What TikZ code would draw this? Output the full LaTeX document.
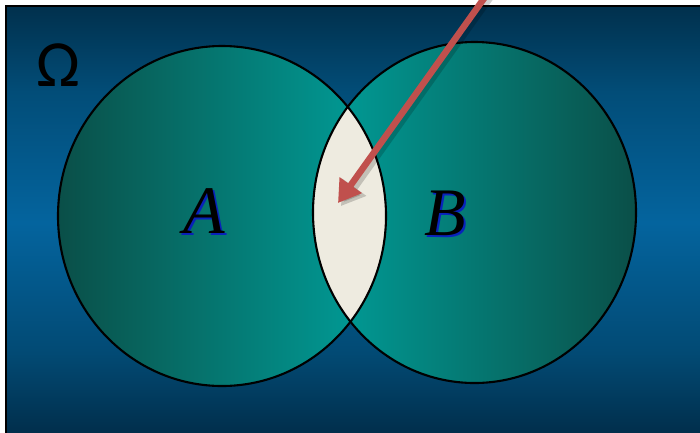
\documentclass[tikz,border=0pt]{standalone}
\usepackage{fontspec}
\setmainfont{Liberation Serif}
\newfontfamily\omegafont{Carlito}
\usetikzlibrary{arrows.meta}
\definecolor{bgtop}{HTML}{01304C}
\definecolor{bgupper}{HTML}{024D78}
\definecolor{bgmid}{HTML}{04649E}
\definecolor{bglower}{HTML}{024A74}
\definecolor{bgbot}{HTML}{012C48}
\definecolor{tealdark}{HTML}{0A4F48}
\definecolor{tealbright}{HTML}{00A09B}
\definecolor{lensfill}{HTML}{EEEBE0}
\definecolor{arrowred}{HTML}{C0504D}
\definecolor{shadowblue}{HTML}{0A14C8}
\pgfdeclareverticalshading{universeshade}{100bp}{color(0bp)=(bgbot); color(25bp)=(bgbot); color(35bp)=(bglower); color(50bp)=(bgmid); color(65bp)=(bgupper); color(75bp)=(bgtop); color(100bp)=(bgtop)}
\tikzset{
  setoutline/.style={draw=black, line width=2.1pt},
  lensstyle/.style={fill=lensfill},
  letter/.style={font=\fontsize{68}{68}\selectfont\itshape, inner sep=0pt},
  lettershadow/.style={letter, text=shadowblue, opacity=0.85},
  pointer/.style={draw=arrowred, line width=6.5pt, -{Triangle[width=26pt,length=22pt]}},
  pointershadow/.style={draw=black, opacity=0.18, line width=7.5pt, -{Triangle[width=28pt,length=23pt]}}
}
\begin{document}
\begin{tikzpicture}[x=1pt,y=-1pt]
\useasboundingbox (0,0) rectangle (700,432);
\fill[white] (0,0) rectangle (700,432);
% universe
\shade[shading=universeshade] (5,5) rectangle (712,440);
\draw[line width=2.6pt] (6,445) -- (6,6) -- (715,6);
\node[font=\omegafont\fontsize{66}{66}\selectfont, inner sep=0pt] (omega) at (58,65) {Ω};
% centres
\coordinate (ca) at (222,216);
\coordinate (cb) at (474.5,212.5);
% sets
\shade[left color=tealdark, right color=tealbright] (ca) ellipse [x radius=164, y radius=170];
\shade[left color=tealbright, right color=tealdark] (cb) ellipse [x radius=161.5, y radius=170.5];
\begin{scope}
  \clip (ca) ellipse [x radius=164, y radius=170];
  \fill[lensstyle] (cb) ellipse [x radius=161.5, y radius=170.5];
\end{scope}
\draw[setoutline] (ca) ellipse [x radius=164, y radius=170];
\draw[setoutline] (cb) ellipse [x radius=161.5, y radius=170.5];
% labels
\node[lettershadow] (Ash) at (206.5,213.5) {A};
\node[letter] (A) at (204,211) {A};
\node[lettershadow] (Bsh) at (447.5,215.5) {B};
\node[letter] (B) at (445,213) {B};
% arrow
\coordinate (arrstart) at (490,-10);
\coordinate (arrtip) at (338,203);
\coordinate (shstart) at (493,-7);
\coordinate (shtip) at (341,206);
\draw[pointershadow] (shstart) -- (shtip);
\draw[pointer] (arrstart) -- (arrtip);
\end{tikzpicture}
\end{document}
